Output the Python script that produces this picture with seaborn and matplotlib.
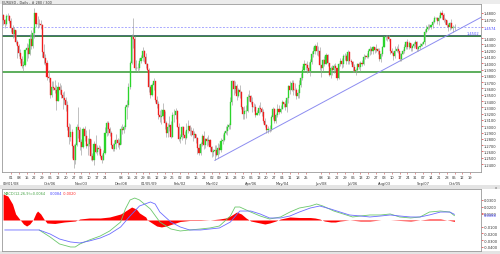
import numpy as np
import pandas as pd
import matplotlib
matplotlib.use("Agg")
import matplotlib.pyplot as plt
import matplotlib.transforms as mtransforms
import seaborn as sns

# ---------------- data (prices in 1e-4 units) ----------------
first_open = 14770
close = [
    14680, 14620, 14745, 14750, 14675,
    14555, 14460, 14520, 14330, 14270,
    14170, 14060, 13950, 13965, 14210,
    14240, 14150, 14380, 14270, 14480,
    14790, 14630, 14630, 14620, 14600,
    14180, 14090, 14000, 13780, 13760,
    13500, 13620, 13610, 13580, 13400,
    13620, 13580, 13490, 13440, 13420,
    13330, 12990, 12830, 12910, 12680,
    12460, 12700, 12980, 12940, 12750,
    12670, 12960, 12840, 12690, 12720,
    12790, 12520, 12470, 12720, 12590,
    12650, 12640, 12530, 12470, 12580,
    12900, 13050, 12960, 12900, 12700,
    12640, 12710, 12780, 12730, 12700,
    12960, 12940, 12980, 13300, 13340,
    13620, 14000, 14410, 14390, 13930,
    13920, 13930, 14030, 14090,
    14200, 14100, 13980, 13900,
    13620, 13500, 13650, 13710, 13410,
    13350, 13170, 13150, 13160, 13250,
    13050, 12890, 12980, 13020, 12830,
    13170, 13170, 13240, 12990, 12800,
    12830, 12980, 12860, 12820, 12940,
    13000, 12930, 12920, 12860, 12880,
    12820, 12650, 12580, 12710, 12840,
    12700, 12800, 12760, 12780, 12670,
    12590, 12600, 12630, 12540, 12660,
    12620, 12770, 12780, 12890, 12920,
    12990, 13020, 13390, 13710, 13590,
    13640, 13480, 13570, 13540, 13300,
    13190, 13240, 13240, 13470, 13480,
    13390, 13300, 13310, 13170, 13210,
    13290, 13280, 13230, 13080, 13020,
    12940, 12950, 12960, 13140, 13280,
    13090, 13170, 13280, 13230, 13270,
    13380, 13350, 13310, 13440, 13640,
    13580, 13680, 13580, 13570, 13480,
    13520, 13650, 13770, 13900, 13990,
    13970, 13930, 13880, 14020, 14150,
    14190, 14270, 14190, 14190, 13970,
    13920, 14050, 13980, 14130, 14000,
    13820, 13920, 13900, 13950, 13920,
    13770, 13980, 14030, 13990, 14120,
    14120, 14030, 14180, 14040, 14020,
    13940, 13880, 13890, 13990, 13940,
    14000, 13990, 14100, 14110, 14100,
    14190, 14230, 14200, 14250, 14210,
    14220, 14200, 14060, 14150, 14250,
    14410, 14420, 14410, 14380, 14190,
    14160, 14110, 14190, 14230, 14190,
    14060, 14150, 14190, 14250, 14340,
    14260, 14320, 14240, 14270, 14310,
    14330, 14220, 14250, 14280, 14310,
    14340, 14500, 14550, 14580, 14570,
    14610, 14660, 14720, 14720, 14670,
    14720, 14790, 14760, 14690, 14680,
    14600, 14570, 14640, 14560, 14570,
    14574,
]
high = [
    14780, 14700, 14780, 14790, 14760,
    14710, 14610, 14570, 14530, 14370,
    14300, 14220, 14110, 14030, 14230,
    14320, 14300, 14460, 14530, 14570,
    14870, 14780, 14750, 14700, 14690,
    14620, 14310, 14150, 14050, 13900,
    13770, 13720, 13720, 13730, 13650,
    13700, 13690, 13660, 13550, 13560,
    13470, 13400, 13050, 13040, 12960,
    12710, 12730, 13030, 13300, 12990,
    12790, 12990, 13000, 12940, 12810,
    12950, 12790, 12580, 12760, 12860,
    12700, 12700, 12690, 12560, 12630,
    12980, 13090, 13080, 12980, 12920,
    12740, 12780, 12870, 12810, 12800,
    13010, 13030, 13020, 13330, 13420,
    13680, 14030, 14470, 14720, 14430,
    14050, 14000, 14080, 14130,
    14260, 14210, 14160, 14000,
    13930, 13650, 13680, 13760, 13720,
    13480, 13400, 13260, 13270, 13370,
    13240, 13090, 13050, 13160, 13080,
    13230, 13270, 13290, 13250, 13050,
    12870, 13000, 13010, 12930, 13050,
    13100, 13020, 12990, 12970, 12930,
    12870, 12830, 12710, 12750, 12880,
    12930, 12820, 12830, 12860, 12800,
    12690, 12640, 12700, 12700, 12730,
    12710, 12810, 12880, 12930, 13000,
    13030, 13050, 13470, 13740, 13740,
    13720, 13670, 13600, 13650, 13560,
    13300, 13320, 13340, 13510, 13570,
    13490, 13470, 13370, 13350, 13260,
    13340, 13390, 13300, 13270, 13130,
    13030, 13010, 13020, 13170, 13310,
    13290, 13210, 13350, 13340, 13330,
    13420, 13390, 13420, 13470, 13660,
    13720, 13730, 13740, 13680, 13610,
    13590, 13730, 13840, 13960, 14050,
    14010, 14040, 14020, 14060, 14190,
    14250, 14310, 14340, 14270, 14250,
    13970, 14070, 14110, 14160, 14140,
    14010, 13960, 13970, 13990, 14000,
    13930, 14010, 14080, 14090, 14150,
    14160, 14140, 14210, 14200, 14070,
    14040, 13990, 13930, 14000, 14020,
    14030, 14050, 14140, 14130, 14170,
    14230, 14270, 14250, 14270, 14250,
    14300, 14240, 14240, 14160, 14270,
    14430, 14440, 14450, 14440, 14390,
    14240, 14200, 14270, 14280, 14300,
    14170, 14160, 14230, 14300, 14350,
    14380, 14350, 14320, 14290, 14340,
    14370, 14350, 14280, 14320, 14330,
    14360, 14540, 14600, 14630, 14620,
    14630, 14680, 14750, 14740, 14740,
    14760, 14830, 14850, 14790, 14720,
    14690, 14640, 14660, 14700, 14610,
    14620,
]
low = [
    14610, 14560, 14610, 14680, 14640,
    14500, 14400, 14410, 14300, 14080,
    14110, 14000, 13930, 13880, 13960,
    14040, 14090, 14130, 14220, 14240,
    14400, 14580, 14560, 14570, 14540,
    14100, 13980, 13970, 13740, 13700,
    13450, 13460, 13580, 13520, 13260,
    13400, 13510, 13450, 13280, 13360,
    13240, 12940, 12720, 12760, 12500,
    12330, 12400, 12680, 12810, 12630,
    12550, 12660, 12770, 12660, 12540,
    12690, 12460, 12440, 12380, 12570,
    12540, 12560, 12490, 12420, 12460,
    12560, 12840, 12860, 12850, 12660,
    12610, 12600, 12640, 12670, 12640,
    12710, 12880, 12890, 12950, 13120,
    13310, 13590, 13980, 14240, 13900,
    13870, 13860, 13900, 14000,
    14030, 14020, 13920, 13880,
    13550, 13440, 13480, 13580, 13380,
    13290, 13110, 13060, 13040, 13120,
    12950, 12830, 12830, 12930, 12810,
    12830, 13070, 13110, 12980, 12770,
    12740, 12780, 12810, 12720, 12800,
    12900, 12860, 12850, 12770, 12810,
    12730, 12560, 12540, 12540, 12680,
    12640, 12660, 12680, 12700, 12600,
    12510, 12520, 12460, 12520, 12490,
    12560, 12590, 12720, 12760, 12870,
    12860, 12950, 12950, 13330, 13500,
    13530, 13420, 13470, 13440, 13280,
    13120, 13120, 13130, 13220, 13400,
    13350, 13230, 13240, 13150, 13180,
    13180, 13210, 13160, 13050, 12990,
    12890, 12890, 12910, 12930, 13110,
    13050, 13050, 13150, 13190, 13210,
    13270, 13310, 13260, 13230, 13370,
    13510, 13560, 13500, 13490, 13430,
    13440, 13450, 13630, 13730, 13880,
    13900, 13850, 13860, 13800, 13990,
    14100, 14140, 14130, 14110, 13890,
    13780, 13880, 13950, 13990, 13950,
    13790, 13770, 13820, 13850, 13870,
    13740, 13750, 13950, 13930, 13940,
    14050, 13980, 13990, 13980, 13990,
    13860, 13860, 13810, 13880, 13910,
    13870, 13950, 13970, 14070, 14080,
    14080, 14130, 14150, 14140, 14170,
    14180, 14150, 14040, 14020, 14120,
    14250, 14370, 14360, 14350, 14150,
    14150, 14050, 14080, 14180, 14170,
    14040, 14040, 14140, 14170, 14230,
    14230, 14220, 14200, 14190, 14240,
    14250, 14200, 14190, 14220, 14270,
    14300, 14290, 14480, 14520, 14540,
    14540, 14560, 14640, 14700, 14630,
    14610, 14710, 14700, 14650, 14630,
    14580, 14510, 14530, 14540, 14500,
    14530,
]

# horizontal levels and trendline anchors (prices)
level_upper = 1.4435
level_lower = 1.3855
bid_price = 1.4574
trend_anchor_dates = ["2009-03-04", "2009-10-05"]
trend_anchor_prices = [1.2457, 1.4502]

# MACD readings (bar index, value in 1e-4 units)
signal_idx = [1, 23, 30, 36, 43, 49, 55, 62, 68, 75, 81, 87, 94, 97, 100, 107, 113, 119, 126,
              132, 138, 145, 151, 158, 164, 170, 177, 183, 189, 196, 202, 209, 215, 221, 228,
              234, 241, 247, 253, 260, 266, 272, 279, 285, 288]
signal_val = [-149, -149, -209, -284, -328, -343, -313, -269, -209, -104, 60, 209, 269, 239, 119,
              -30, -104, -149, -149, -134, -119, -30, 134, 134, 90, 30, 30, 60, 119, 179, 209, 164,
              119, 75, 60, 45, 60, 75, 60, 45, 45, 75, 119, 119, 84]
main_idx = [23, 30, 36, 43, 46, 49, 55, 62, 68, 75, 78, 81, 84, 87, 94, 100, 107, 113, 119, 126,
            132, 138, 145, 148, 151, 158, 164, 170, 177, 183, 189, 196, 200, 204, 211, 217, 223,
            228, 234, 241, 247, 253, 260, 266, 272, 279, 285, 288]
main_val = [-149, -254, -358, -403, -403, -358, -299, -239, -164, -30, 164, 299, 328, 299, 164,
            -30, -134, -164, -149, -134, -119, -90, 60, 194, 194, 119, 60, 15, 45, 119, 179, 209,
            239, 209, 134, 90, 45, 60, 75, 75, 90, 45, 30, 45, 119, 134, 119, 64]
hist_idx = [0, 3, 6, 8, 11, 13, 15, 17, 19, 21, 22, 24, 26, 28, 33, 39, 46, 49, 55, 62, 68, 75,
            78, 82, 85, 87, 91, 92, 95, 98, 101, 104, 108, 113, 119, 126, 132, 138, 142, 145, 149,
            152, 155, 158, 161, 164, 167, 170, 174, 177, 180, 183, 189, 196, 199, 202, 205, 209,
            212, 215, 221, 228, 234, 241, 247, 253, 260, 266, 272, 279, 285, 288]
hist_val = [388, 358, 239, 90, 0, -60, -90, -60, 0, 105, 134, 90, 15, -45, -52, -30, -15, 15, 30,
            30, 45, 90, 134, 194, 164, 105, 45, 0, -45, -90, -104, -90, -60, -22, -7, -7, 0, 15,
            30, 60, 119, 90, 30, -15, -30, -45, -60, -45, -15, 15, 30, 45, 37, 37, 30, 15, -15,
            -30, -30, -15, 0, -15, -15, 0, 0, -7, -15, 0, 15, 15, -7, -20]

price_ticks = [1.48, 1.47, 1.4574, 1.44, 1.43, 1.42, 1.41, 1.40, 1.39, 1.38, 1.37, 1.36, 1.35,
               1.34, 1.33, 1.32, 1.31, 1.30, 1.29, 1.28, 1.27, 1.26, 1.25, 1.24]
macd_ticks = [0.03, 0.02, 0.01, 0.0084, -0.01, -0.02, -0.03, -0.04]
month_labels = [("2008-09-01", "09/01/08"), ("2008-10-06", "Oct/06"), ("2008-11-03", "Nov/03"),
                ("2008-12-08", "Dec/08"), ("2009-01-05", "01/05/09"), ("2009-02-02", "Feb/02"),
                ("2009-03-02", "Mar/02"), ("2009-04-06", "Apr/06"), ("2009-05-04", "May/04"),
                ("2009-06-08", "Jun/08"), ("2009-07-06", "Jul/06"), ("2009-08-03", "Aug/03"),
                ("2009-09-07", "Sep/07"), ("2009-10-05", "Oct/05")]
skipped_day_labels = ["2008-12-01", "2009-06-01"]

# ---------------- preparation ----------------
dates = pd.bdate_range("2008-08-25", "2009-10-30")
dates = dates[~dates.isin(pd.to_datetime(["2008-12-25", "2009-01-01"]))]
pos = {d: i for i, d in enumerate(dates)}
n = len(close)
c = np.array(close) / 1e4
h = np.array(high) / 1e4
l = np.array(low) / 1e4
o = np.concatenate([[first_open / 1e4], c[:-1]])
idx = np.arange(n)

sns.set_style("white")
plt.rcParams["font.family"] = ["DejaVu Sans"]

W, H = 500, 255
fig = plt.figure(figsize=(5.0, 2.55), dpi=100)
fig.patch.set_facecolor("white")

def rect(x0, y0, x1, y1):
    return [x0 / W, 1 - y1 / H, (x1 - x0) / W, (y1 - y0) / H]

# background bands
band = fig.add_axes([0, 0, 1, 1], zorder=-5)
band.set_xlim(0, W); band.set_ylim(H, 0); band.axis("off")
band.add_patch(plt.Rectangle((0, 0), W, 5, color="#ececec", lw=0))
band.add_patch(plt.Rectangle((0, 186), W, 4, color="#e4e4e4", lw=0))
band.add_patch(plt.Rectangle((0, 252), W, 3, color="#e4e4e4", lw=0))
band.text(496, 187.7, "x", fontsize=2.6, color="#555555", ha="center", va="center")
band.text(2, 2.7, "EURUSD , Daily , # 280 / 300", fontsize=2.4, color="#333333",
          ha="left", va="center")

ax = fig.add_axes(rect(2, 5, 481, 173))
ax2 = fig.add_axes(rect(2, 190, 481, 252))
for a in (ax, ax2):
    a.set_facecolor("white")
    for s in a.spines.values():
        s.set_color("#9a9a9a")
        s.set_linewidth(0.6)

xmin, xmax = -0.7, 304.9

# ---------------- main chart ----------------
up = c >= o
ax.vlines(idx, l, h, color="#9c9c9c", lw=0.45, zorder=2)
ax.bar(idx, c - o, bottom=o, width=0.7, color=np.where(up, "#2bd42b", "#f01c1c"),
       edgecolor=np.where(up, "#2bd42b", "#f01c1c"), linewidth=0.25, zorder=3)

ax.axhline(level_upper, color="#2c7a34", lw=1.3, zorder=1)
ax.axhline(level_upper + 0.0012, color="#556699", lw=0.4, zorder=1)
ax.axhline(level_lower, color="#4fa84f", lw=1.3, zorder=1)
ax.axhline(bid_price, color="#a9a9ff", lw=0.7, ls=(0, (2.0, 1.6)), zorder=1)

t0 = pos[pd.Timestamp(trend_anchor_dates[0])]
t1 = pos[pd.Timestamp(trend_anchor_dates[1])]
slope = (trend_anchor_prices[1] - trend_anchor_prices[0]) / (t1 - t0)
trend_df = pd.DataFrame({"x": [t0, xmax],
                         "y": [trend_anchor_prices[0], trend_anchor_prices[0] + slope * (xmax - t0)]})
sns.lineplot(data=trend_df, x="x", y="y", ax=ax, color="#8c8cf0", lw=0.7, zorder=1)
ax.text(xmax - 1.2, trend_anchor_prices[1] - 0.0016, f"{trend_anchor_prices[1]:.4f}", color="#5555ff",
        fontsize=2.6, ha="right", va="center")

ax.set_xlim(xmin, xmax)
ax.set_ylim(1.2273, 1.4940)
ax.set_xlabel(""); ax.set_ylabel("")

ax.yaxis.tick_right()
ax.set_yticks(price_ticks)
ax.set_yticklabels([f"{v:.4f}" for v in price_ticks])
ax.tick_params(axis="y", which="both", length=1.6, width=0.5, color="#e03030", labelcolor="#333333",
               labelsize=2.6, pad=0.6, right=True, left=False)
for lab, v in zip(ax.get_yticklabels(), price_ticks):
    if v == bid_price:
        lab.set_color("#4040ff")

mondays = [d for d in dates if d.weekday() == 0 and pd.Timestamp("2008-09-01") <= d <= pd.Timestamp("2009-10-19")
           and d not in pd.to_datetime(skipped_day_labels)]
ax.set_xticks([pos[d] for d in mondays])
ax.set_xticklabels([d.strftime("%d") for d in mondays])
ax.tick_params(axis="x", length=1.2, width=0.4, color="#d04040", labelcolor="#333333",
               labelsize=2.6, pad=0.8, bottom=True)
trans = mtransforms.blended_transform_factory(ax.transData, ax.transAxes)
for ds, txt in month_labels:
    ax.text(pos[pd.Timestamp(ds)], -0.068, txt, transform=trans, fontsize=2.6, color="#333333",
            ha="center", va="center")
if ax.get_legend():
    ax.get_legend().remove()

# ---------------- MACD panel ----------------
hx = np.array(hist_idx)
hv = np.array(hist_val) / 1e4
ax2.fill_between(hx, 0, hv, color="#ff0000", lw=0, zorder=2)
sig_df = pd.DataFrame({"x": signal_idx, "y": np.array(signal_val) / 1e4})
main_df = pd.DataFrame({"x": main_idx, "y": np.array(main_val) / 1e4})
sns.lineplot(data=main_df, x="x", y="y", ax=ax2, color="#6cc86c", lw=0.6, zorder=3)
sns.lineplot(data=sig_df, x="x", y="y", ax=ax2, color="#6c6cff", lw=0.6, zorder=3)
ax2.set_xlim(xmin, xmax)
ax2.set_ylim(-0.0463, 0.0463)
ax2.set_xlabel(""); ax2.set_ylabel("")
ax2.set_xticks([])
ax2.yaxis.tick_right()
ax2.set_yticks(macd_ticks)
ax2.set_yticklabels([f"{v:.4f}" for v in macd_ticks])
ax2.tick_params(axis="y", length=1.6, width=0.5, color="#e03030", labelcolor="#333333",
                labelsize=2.6, pad=0.6, right=True, left=False)
for lab, v in zip(ax2.get_yticklabels(), macd_ticks):
    if v == 0.0084:
        lab.set_color("#4040ff")

ax2.text(0.003, 0.93, "MACD(12,26,9)=0.0064", transform=ax2.transAxes, fontsize=2.5,
         color="#40a040", ha="left", va="center")
ax2.text(0.10, 0.93, "0.0084", transform=ax2.transAxes, fontsize=2.5,
         color="#4040ff", ha="left", va="center")
ax2.text(0.128, 0.93, "-0.0020", transform=ax2.transAxes, fontsize=2.5,
         color="#ff2020", ha="left", va="center")

fig.savefig("out.png", dpi=100, facecolor="white")
